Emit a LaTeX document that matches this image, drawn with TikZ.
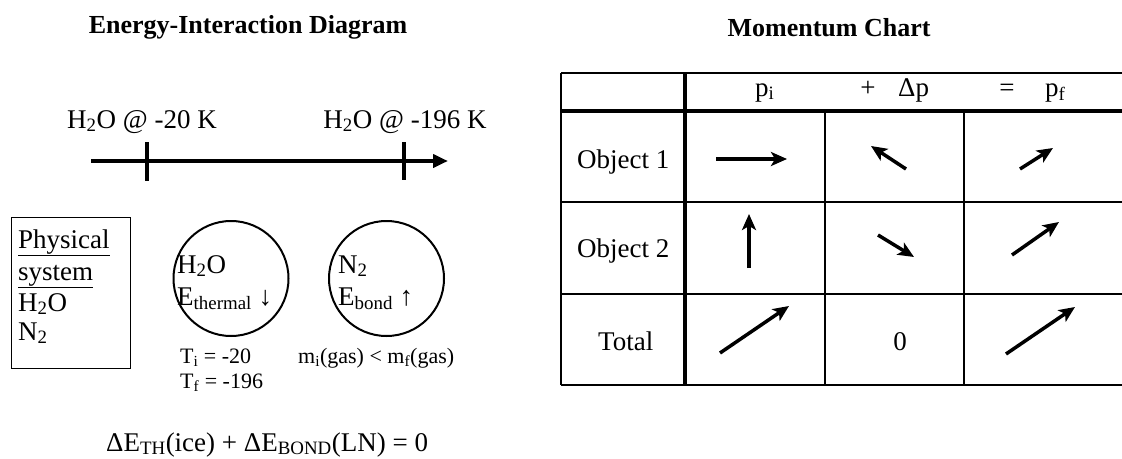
\documentclass[tikz,border=0pt]{standalone}
\usepackage{fontspec}
\setmainfont{Liberation Serif}
\usetikzlibrary{arrows.meta}
\newcommand{\bigfont}{\fontsize{27pt}{32pt}\selectfont}
\newcommand{\smallfont}{\fontsize{22pt}{26pt}\selectfont}
\begin{document}
\begin{tikzpicture}[x=1pt,y=-1pt,
  txt/.style={inner sep=0pt,anchor=base west,font=\bigfont},
  txtc/.style={inner sep=0pt,anchor=base,font=\bigfont},
  stxt/.style={inner sep=0pt,anchor=base west,font=\smallfont},
  title/.style={inner sep=0pt,anchor=base,font=\fontsize{26pt}{30pt}\selectfont\bfseries},
  timeline/.style={line width=4pt,-{Triangle[length=15pt,width=13pt]}},
  tick/.style={line width=4pt},
  sysbox/.style={draw,line width=1pt},
  sphere/.style={circle,draw,line width=2pt,minimum size=115pt,inner sep=0pt},
  thin/.style={line width=1.5pt},
  thick/.style={line width=3.5pt},
  medium/.style={line width=2.5pt},
  vec/.style={line width=3.5pt,-{Stealth[length=16pt,width=14pt,inset=4pt]}}]
\useasboundingbox (0,0) rectangle (1122,458);
\fill[white] (0,0) rectangle (1122,458);

% titles
\node[title] (t1) at (248,33) {Energy-Interaction Diagram};
\node[title] (t2) at (829,36) {Momentum Chart};

% timeline
\coordinate (ls) at (91,161);
\coordinate (le) at (448,161);
\draw[timeline] (ls) -- (le);
\coordinate (k1a) at (147,142); \coordinate (k1b) at (147,181);
\coordinate (k2a) at (404,142); \coordinate (k2b) at (404,180);
\draw[tick] (k1a) -- (k1b);
\draw[tick] (k2a) -- (k2b);
\node[txtc] (lab1) at (142,128) {H\textsubscript{2}O @ -20 K};
\node[txtc] (lab2) at (405,128) {H\textsubscript{2}O @ -196 K};

% physical system box
\draw[sysbox] (11,217) rectangle (130,368);
\node[txt] (ps1) at (18,248) {\underline{Physical}};
\node[txt] (ps2) at (18,280) {\underline{system}};
\node[txt] (ps3) at (18,311) {H\textsubscript{2}O};
\node[txt] (ps4) at (18,340) {N\textsubscript{2}};

% circles
\node[sphere] (c1) at (231,278.5) {};
\node[sphere] (c2) at (386.5,278.5) {};
\node[txt] (c1a) at (177,273) {H\textsubscript{2}O};
\node[txt] (c1b) at (177,305) {E\textsubscript{thermal} ↓};
\node[txt] (c2a) at (338,273) {N\textsubscript{2}};
\node[txt] (c2b) at (338,305) {E\textsubscript{bond} ↑};
\node[stxt] (ti) at (180,363) {T\textsubscript{i} = -20};
\node[stxt] (tf) at (180,388) {T\textsubscript{f} = -196};
\node[stxt] (mm) at (298,363) {m\textsubscript{i}(gas) < m\textsubscript{f}(gas)};

% equation
\node[txt] (eq) at (106,451) {ΔE\textsubscript{TH}(ice) + ΔE\textsubscript{BOND}(LN) = 0};

% table
\draw[thin] (561,73) -- (1122,73);
\draw[thick] (561,111) -- (1122,111);
\draw[thin] (561,202) -- (1122,202);
\draw[medium] (561,294) -- (1122,294);
\draw[thin] (561,385) -- (1122,385);
\draw[thin] (561,73) -- (561,385);
\draw[thick] (685,73) -- (685,385);
\draw[thin] (825,111) -- (825,385);
\draw[thin] (964,111) -- (964,385);

\node[txt] (hpi) at (755,96) {p\textsubscript{i}};
\node[txtc] (hplus) at (868,96) {+};
\node[txt] (hdp) at (898,96) {Δp};
\node[txtc] (heq) at (1007,96) {=};
\node[txt] (hpf) at (1045,96) {p\textsubscript{f}};

\node[txt] (r1) at (577,168) {Object 1};
\node[txt] (r2) at (577,257) {Object 2};
\node[txt] (r3) at (598,350) {Total};
\node[txtc] (zero) at (900,350) {0};

% vectors
\coordinate (a1s) at (716,159); \coordinate (a1e) at (787,159);
\coordinate (a2s) at (906,169); \coordinate (a2e) at (871,146);
\coordinate (a3s) at (1020,169); \coordinate (a3e) at (1053,148);
\coordinate (a4s) at (749,268); \coordinate (a4e) at (749,214);
\coordinate (a5s) at (878,235); \coordinate (a5e) at (914,257);
\coordinate (a6s) at (1012,255); \coordinate (a6e) at (1059,222);
\coordinate (a7s) at (720,353); \coordinate (a7e) at (789,306);
\coordinate (a8s) at (1006,354); \coordinate (a8e) at (1075,307);
\foreach \i in {1,...,8} {\draw[vec] (a\i s) -- (a\i e);}
\end{tikzpicture}
\end{document}
